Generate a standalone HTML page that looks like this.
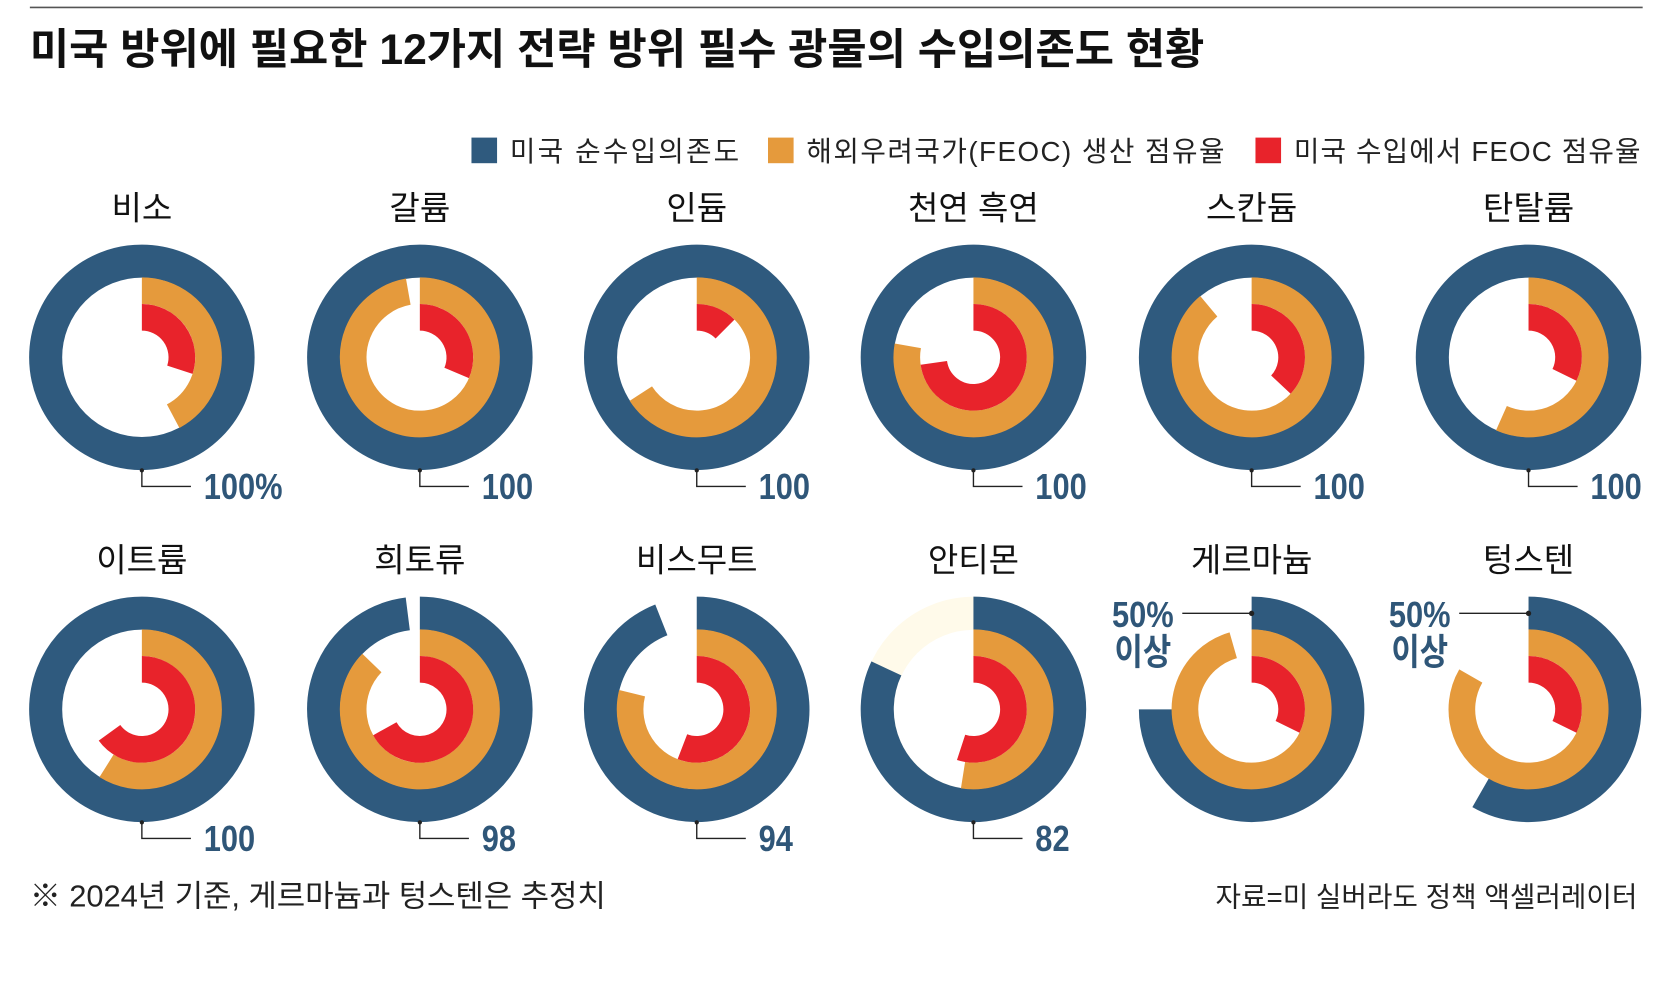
<!DOCTYPE html>
<html><head><meta charset="utf-8"><style>
html,body{margin:0;padding:0;background:#fff;}
svg{display:block;}
text{font-family:"Liberation Sans","Noto Sans CJK KR",sans-serif;}
.num{font-family:"Liberation Sans Narrow","Liberation Sans",sans-serif;font-weight:bold;fill:#2f5678;font-size:34px;}
.nm{font-size:31px;fill:#111;}
</style></head><body>
<svg id="s" width="1664" height="990" viewBox="0 0 1560 928.125" xmlns="http://www.w3.org/2000/svg">
<line x1="28" y1="7" x2="1540" y2="7" stroke="#555" stroke-width="1.5"/>
<text x="28" y="60" font-size="40" font-weight="bold" fill="#111">미국 방위에 필요한 12가지 전략 방위 필수 광물의 수입의존도 현황</text>
<rect x="442" y="129" width="24" height="24" fill="#2f5a7e"/>
<text x="478" y="151" font-size="26" fill="#222" textLength="215">미국 순수입의존도</text>
<rect x="720" y="129" width="24" height="24" fill="#e59a3c"/>
<text x="756" y="151" font-size="26" fill="#222" textLength="392">해외우려국가(FEOC) 생산 점유율</text>
<rect x="1177" y="129" width="24" height="24" fill="#e8232b"/>
<text x="1213" y="151" font-size="26" fill="#222" textLength="325">미국 수입에서 FEOC 점유율</text>
<g id="g"></g>
<text x="28" y="850" font-size="29" fill="#222" textLength="540">※ 2024년 기준, 게르마늄과 텅스텐은 추정치</text>
<text x="1535" y="850" font-size="26" fill="#222" text-anchor="end">자료=미 실버라도 정책 액셀러레이터</text>
</svg>
<script>
var d=[
["비소",100,152,108,"100%"],["갈륨",100,350,113,"100"],["인듐",100,237,45,"100"],
["천연 흑연",100,280,262,"100"],["스칸듐",100,320,133,"100"],["탄탈륨",100,204,116,"100"],
["이트륨",100,212,234,"100"],["희토류",98,314,241,"98"],["비스무트",94,284,201,"94"],
["안티몬",82,189,198,"82"],["게르마늄",75,344,116,null],["텅스텐",58.3,300,116,null]];
var xs=[133,393.6,653.2,912.6,1173.4,1433],ys=[335,665];
function arc(cx,cy,r,deg,col,w){
 if(deg>=359.9){return '<circle cx="'+cx+'" cy="'+cy+'" r="'+r+'" fill="none" stroke="'+col+'" stroke-width="'+w+'"/>';}
 var a=deg*Math.PI/180,x=cx+r*Math.sin(a),y=cy-r*Math.cos(a);
 return '<path d="M'+cx+' '+(cy-r)+' A'+r+' '+r+' 0 '+(deg>180?1:0)+' 1 '+x.toFixed(2)+' '+y.toFixed(2)+'" fill="none" stroke="'+col+'" stroke-width="'+w+'"/>';}
var h='';
d.forEach(function(e,i){
 var cx=xs[i%6],cy=ys[Math.floor(i/6)];
 h+='<text class="nm" x="'+cx+'" y="'+(cy-129)+'" text-anchor="middle">'+e[0]+'</text>';
 if(i==9)h+='<circle cx="'+cx+'" cy="'+cy+'" r="90" fill="none" stroke="#fffaea" stroke-width="31"/>';
 h+=arc(cx,cy,90.2,e[1]*3.6,'#2f5a7e',31);
 h+=arc(cx,cy,62.5,e[2],'#e59a3c',25);
 h+=arc(cx,cy,37.5,e[3],'#e8232b',25);
 if(e[4]){
  var by=cy+106,ly=cy+121;
  h+='<circle cx="'+cx+'" cy="'+by+'" r="2" fill="#222"/><polyline points="'+cx+','+by+' '+cx+','+ly+' '+(cx+46)+','+ly+'" fill="none" stroke="#222" stroke-width="1.3"/>';
  h+='<text class="num" transform="translate('+(cx+58)+','+(cy+133)+') scale(0.85,1)">'+e[4]+'</text>';
 } else {
  var ty=cy-90;
  h+='<line x1="'+(cx-65)+'" y1="'+ty+'" x2="'+cx+'" y2="'+ty+'" stroke="#222" stroke-width="1.3"/><circle cx="'+cx+'" cy="'+ty+'" r="2.5" fill="#222"/>';
  h+='<text class="num" transform="translate('+(cx-102)+','+(ty+13)+') scale(0.85,1)" text-anchor="middle">50%</text>';
  h+='<text class="num" transform="translate('+(cx-102)+','+(ty+48)+') scale(0.85,1)" text-anchor="middle" style="font-family:\'Liberation Sans\',\'Noto Sans CJK KR\',sans-serif">이상</text>';
 }
});
document.getElementById('g').innerHTML=h;
</script>
</body></html>
